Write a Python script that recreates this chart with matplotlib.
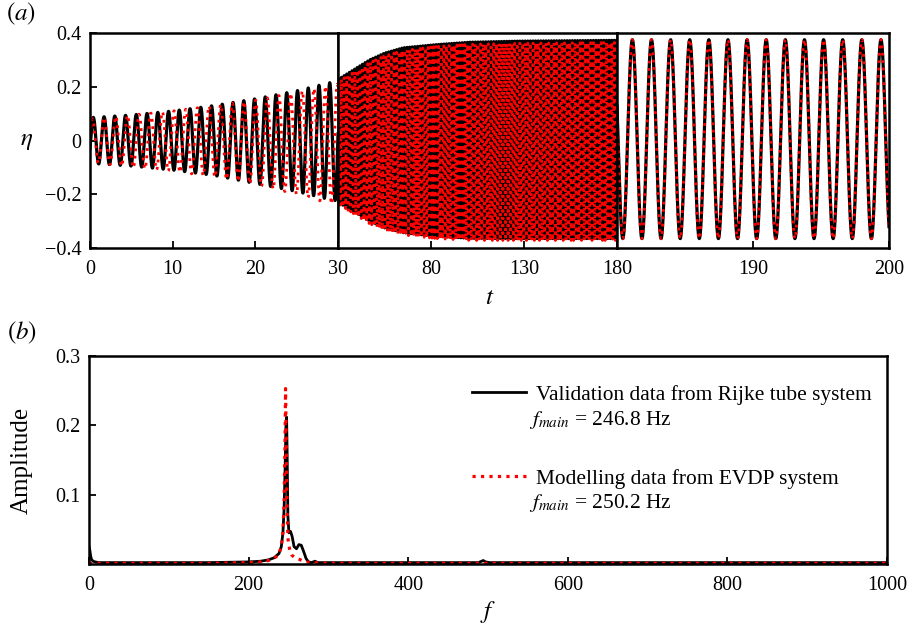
import numpy as np
import matplotlib
matplotlib.use('Agg')
import matplotlib.pyplot as plt

plt.rcParams['font.family'] = ['Liberation Serif', 'DejaVu Serif']
plt.rcParams['mathtext.fontset'] = 'stix'

# ---- panel (a): envelopes ----
# segment 1, t = 0..30
seg1_t = [0, 5, 10, 15, 20, 25, 29, 30]
seg1_black_up = [0.085, 0.095, 0.11, 0.13, 0.155, 0.185, 0.215, 0.22]
seg1_black_lo = [-0.085, -0.095, -0.11, -0.13, -0.16, -0.19, -0.22, -0.225]
seg1_red_up = [0.08, 0.095, 0.11, 0.13, 0.15, 0.18, 0.205, 0.21]
seg1_red_lo = [-0.08, -0.10, -0.115, -0.135, -0.165, -0.20, -0.235, -0.24]
seg1_black_period, seg1_black_peak = 1.30, 0.4
seg1_red_period, seg1_red_peak = 1.41, 0.3

# segment 2, t = 30..180
seg2_t = [30, 40, 47, 55, 65, 83, 101, 128, 180]
seg2_black_up = [0.227, 0.27, 0.30, 0.325, 0.345, 0.357, 0.366, 0.37, 0.373]
seg2_black_lo = [-0.23, -0.27, -0.30, -0.325, -0.343, -0.357, -0.364, -0.365, -0.365]
seg2_red_up = [0.22, 0.26, 0.29, 0.315, 0.335, 0.35, 0.358, 0.362, 0.365]
seg2_red_lo = [-0.235, -0.28, -0.31, -0.335, -0.352, -0.365, -0.372, -0.372, -0.372]
seg2_period, seg2_peak = 1.41, 30.5

# segment 3, t = 180..200
seg3_t = [180, 200]
seg3_up = [0.375, 0.375]
seg3_lo = [-0.365, -0.365]
seg3_period, seg3_peak = 1.406, 181.13


def wave(t0, t1, tk, up, lo, period, peak):
    t = np.arange(t0, t1 + 0.005, 0.01)
    u = np.interp(t, tk, up)
    l = np.interp(t, tk, lo)
    return t, (u + l) / 2 + (u - l) / 2 * np.cos(2 * np.pi * (t - peak) / period)


# ---- panel (b): spectra ----
f_black = [0, 1, 2, 3, 5, 8, 12, 50, 100, 150, 200, 215, 225, 232, 238, 241, 243, 244.5,
           245.8, 246.8, 247.6, 248.3, 249.2, 250.5, 252.5, 254.5, 257, 260, 263, 266,
           269, 272, 275, 279, 283, 287, 295, 350, 450, 488, 492, 494, 497, 502, 600,
           800, 1000]
a_black = [0.025, 0.02, 0.012, 0.007, 0.004, 0.003, 0.002, 0.002, 0.002, 0.002, 0.003,
           0.004, 0.006, 0.009, 0.015, 0.025, 0.045, 0.08, 0.14, 0.2, 0.212, 0.16, 0.07,
           0.045, 0.047, 0.04, 0.025, 0.022, 0.028, 0.027, 0.018, 0.008, 0.003, 0.002,
           0.004, 0.002, 0.002, 0.002, 0.002, 0.002, 0.004, 0.005, 0.003, 0.002, 0.002,
           0.002, 0.002]
f_red = [0, 50, 100, 150, 200, 215, 225, 232, 238, 241, 243, 244.5, 245.5, 246.3, 247.2,
         248.4, 249.5, 251.8, 254, 257, 261, 265, 271, 280, 300, 500, 800, 1000]
a_red = [0.001, 0.001, 0.001, 0.001, 0.002, 0.003, 0.005, 0.008, 0.014, 0.025, 0.045,
         0.09, 0.16, 0.253, 0.17, 0.068, 0.035, 0.018, 0.013, 0.01, 0.008, 0.006, 0.003,
         0.002, 0.001, 0.001, 0.001, 0.001]

fig = plt.figure(figsize=(9.09, 6.34), dpi=100)

lw_spine = 1.8
fs_tick = 14.5
fs_lab = 18
fs_leg = 15.4

# top panel made of three boxes
x0 = 90 / 909
widths = [248 / 909, 279 / 909, 272 / 909]
bot, hgt = 1 - 248 / 634, 215 / 634
axes = []
left = x0
for w in widths:
    axes.append(fig.add_axes([left, bot, w, hgt]))
    left += w

segs = [
    (0, 30, seg1_t, seg1_black_up, seg1_black_lo, seg1_black_period, seg1_black_peak,
     seg1_red_up, seg1_red_lo, seg1_red_period, seg1_red_peak),
    (30, 180, seg2_t, seg2_black_up, seg2_black_lo, seg2_period, seg2_peak,
     seg2_red_up, seg2_red_lo, seg2_period, seg2_peak),
    (180, 200, seg3_t, seg3_up, seg3_lo, seg3_period, seg3_peak,
     seg3_up, seg3_lo, seg3_period, seg3_peak),
]
xticks = [[0, 10, 20, 30], [80, 130, 180], [190, 200]]

for ax, s, xt in zip(axes, segs, xticks):
    t0, t1, tk, bu, bl, bp, bk, ru, rl, rp, rk = s
    tb, yb = wave(t0, t1, tk, bu, bl, bp, bk)
    tr, yr = wave(t0, t1, tk, ru, rl, rp, rk)
    ax.plot(tb, yb, color='black', lw=2.3)
    ax.plot(tr, yr, color='red', lw=2.0, ls=':')
    ax.set_xlim(t0, t1)
    ax.set_ylim(-0.4, 0.4)
    ax.set_xticks(xt)
    ax.set_xticklabels([str(v) for v in xt])
    ax.tick_params(direction='in', length=5, width=1.3, labelsize=fs_tick, pad=9,
                   right=False, top=False)
    for sp in ax.spines.values():
        sp.set_linewidth(lw_spine)
    if ax is not axes[0]:
        ax.set_yticks([])

yt = [0.4, 0.2, 0, -0.2, -0.4]
axes[0].set_yticks(yt)
axes[0].set_yticklabels(['0.4', '0.2', '0', '\u22120.2', '\u22120.4'])
axes[0].tick_params(axis='y', pad=6)

fig.text(27 / 909, 1 - 141 / 634, r'$\eta$', fontsize=fs_lab, ha='center', va='center')
fig.text(490 / 909, 1 - 298 / 634, r'$t$', fontsize=fs_lab, ha='center', va='center')
fig.text(21 / 909, 1 - 14 / 634, r'$(a)$', fontsize=fs_lab, ha='center', va='center')

# bottom panel
axb = fig.add_axes([89 / 909, 1 - 564 / 634, 798 / 909, 208 / 634])
l1, = axb.plot(f_black, a_black, color='black', lw=2.0)
l2, = axb.plot(f_red, a_red, color='red', lw=2.3, ls=':')
axb.set_xlim(0, 1000)
axb.set_ylim(0, 0.3)
axb.set_xticks([0, 200, 400, 600, 800, 1000])
axb.set_xticklabels(['0', '200', '400', '600', '800', '1000'])
axb.set_yticks([0.1, 0.2, 0.3])
axb.set_yticklabels(['0.1', '0.2', '0.3'])
axb.tick_params(direction='in', length=5, width=1.3, labelsize=fs_tick, pad=9)
axb.tick_params(axis='y', pad=6)
for sp in axb.spines.values():
    sp.set_linewidth(lw_spine)

axb.legend([l1, l2], ['Validation data from Rijke tube system',
                      'Modelling data from EVDP system'],
           loc='upper left', bbox_to_anchor=(0.48, 0.862), frameon=False,
           fontsize=fs_leg, handlelength=2.5, handletextpad=0.5, labelspacing=3.0,
           borderpad=0, borderaxespad=0)
axb.text(0.552, 0.690, r'$f_{main}$ = 246.8 Hz', transform=axb.transAxes,
         fontsize=fs_leg, ha='left', va='center')
axb.text(0.552, 0.291, r'$f_{main}$ = 250.2 Hz', transform=axb.transAxes,
         fontsize=fs_leg, ha='left', va='center')

fig.text(22 / 909, 1 - 460 / 634, 'Amplitude', fontsize=fs_lab, rotation=90,
         ha='center', va='center')
fig.text(488 / 909, 1 - 612 / 634, r'$f$', fontsize=fs_lab, ha='center', va='center')
fig.text(22 / 909, 1 - 333 / 634, r'$(b)$', fontsize=fs_lab, ha='center', va='center')

fig.savefig('out.png', dpi=100)
